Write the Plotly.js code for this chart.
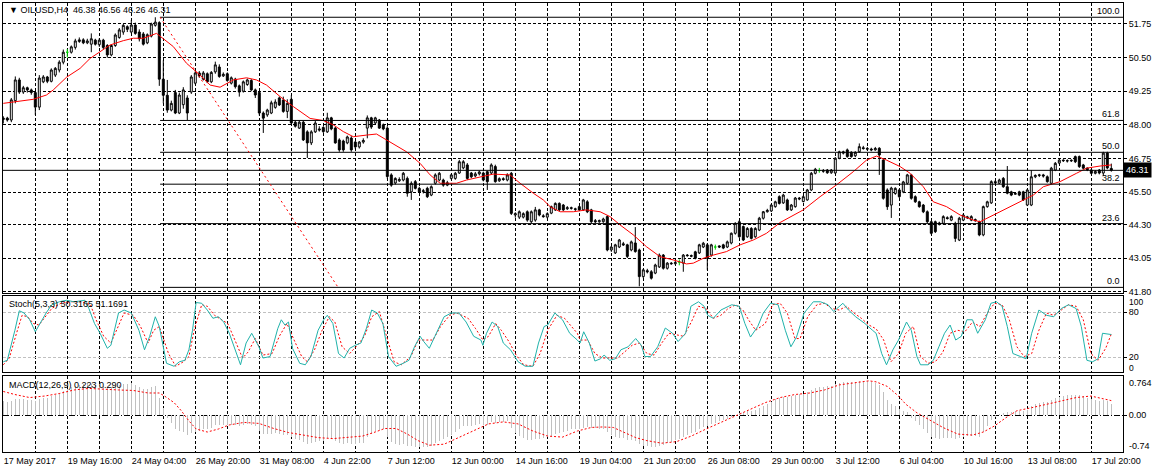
<!DOCTYPE html>
<html><head><meta charset="utf-8">
<script src="https://cdn.plot.ly/plotly-3.0.1.min.js"></script>
<style>html,body{margin:0;padding:0;background:#fff;overflow:hidden}#chart{width:1162px;height:473px}</style>
</head><body><div id="chart"></div>
<script>
// ---------------- data ----------------
const symbolName = "OILUSD,H4";
const openP = [
48.20,48.25,48.18,48.90,49.67,49.22,49.38,49.30,49.20,48.66,
49.60,49.78,49.62,49.85,50.04,50.33,50.70,50.70,50.88,51.10,
51.16,51.05,51.00,51.15,50.98,51.15,50.95,50.60,50.95,51.25,
51.45,51.65,51.45,51.71,51.45,51.38,51.05,51.30,51.70,51.80,
49.70,49.10,48.55,49.20,48.44,48.75,49.00,49.22,49.55,49.93,
49.70,49.90,49.60,49.97,50.15,49.82,49.90,49.55,49.70,49.45,
49.25,49.50,49.65,49.30,49.20,48.44,48.37,48.44,48.65,49.00,
48.92,48.50,48.95,48.10,47.88,48.10,47.74,47.33,47.74,47.85,
47.90,47.74,48.26,47.88,47.44,47.40,47.33,47.51,47.36,47.18,
47.36,47.88,48.26,48.07,48.18,48.00,47.88,46.14,45.84,45.92,
45.95,46.01,45.51,45.89,45.64,45.52,45.64,45.39,45.83,45.95,
45.95,45.76,46.01,46.01,46.21,46.40,46.51,46.21,46.10,46.18,
46.21,46.26,46.21,46.45,45.92,46.00,45.95,46.20,44.65,44.57,
44.57,44.77,44.40,44.46,44.84,44.62,44.57,44.72,44.84,45.08,
45.02,44.88,44.92,44.88,44.96,44.84,45.14,44.84,44.44,44.40,
44.40,44.59,43.35,43.24,43.46,43.58,43.54,43.35,43.61,43.35,
42.36,42.58,42.54,42.49,42.72,43.16,42.67,42.86,42.84,42.90,
42.86,43.16,43.14,43.28,43.24,43.46,43.54,43.16,43.46,43.50,
43.54,43.46,43.61,43.97,44.40,44.22,43.84,44.15,43.84,44.09,
44.53,44.77,44.80,44.96,45.33,45.10,45.21,44.84,44.96,45.28,
45.15,45.21,45.58,46.20,46.30,46.30,46.32,46.22,46.21,46.76,
47.00,47.07,46.98,46.85,47.00,47.15,47.12,47.10,47.07,47.13,
46.69,45.58,45.02,45.45,45.58,45.51,45.83,46.14,45.33,45.14,
45.02,44.77,44.40,44.40,44.30,44.34,44.55,44.46,44.34,43.72,
44.46,44.58,44.46,44.48,44.40,43.91,44.96,45.10,45.89,45.83,
46.01,45.70,45.51,45.42,45.51,45.51,45.02,45.02,46.07,46.12,
46.14,46.07,45.83,46.32,46.58,46.69,46.67,46.66,46.82,46.82,
46.51,46.39,46.32,46.20,46.32,46.21,46.95,46.38];
const highP = [
48.32,48.30,49.00,49.80,49.75,49.45,49.42,49.35,49.25,49.85,
49.85,49.82,50.10,50.15,50.40,50.80,50.82,50.95,51.20,51.25,
51.22,51.20,51.40,51.20,51.22,51.20,51.00,51.00,51.40,51.60,
51.75,51.70,51.90,51.80,51.55,51.45,51.40,51.80,52.00,51.85,
50.40,49.67,48.90,49.30,49.20,49.40,49.10,49.85,50.00,50.00,
50.00,49.95,50.00,50.35,50.25,49.95,49.95,49.80,49.75,49.50,
49.65,49.72,49.70,49.35,49.25,48.50,48.60,48.90,48.95,49.05,
49.05,48.95,49.10,48.15,48.15,48.15,47.80,47.80,48.15,47.95,
47.95,48.45,48.30,47.92,47.50,47.45,47.60,47.58,47.40,47.40,
47.50,48.35,48.30,48.30,48.22,48.05,47.95,46.20,46.05,46.05,
46.25,46.08,45.90,45.95,45.70,45.62,45.70,45.75,46.20,46.25,
46.00,45.92,46.18,46.25,46.70,46.69,46.58,46.25,46.25,46.30,
46.26,46.30,46.57,46.52,46.05,46.05,46.20,46.25,44.75,44.82,
44.75,44.82,44.82,44.95,44.88,44.68,44.75,45.00,45.12,45.12,
45.06,44.98,44.96,44.92,45.00,45.25,45.20,44.88,44.50,44.48,
44.55,44.64,43.50,43.58,43.76,43.65,43.58,43.70,44.20,43.40,
42.65,42.65,42.60,42.84,43.22,43.20,42.90,42.90,42.95,43.00,
43.20,43.20,43.18,43.32,43.58,43.65,43.60,43.58,43.55,43.52,
43.58,43.70,44.00,44.38,44.46,44.26,44.20,44.20,44.20,44.58,
44.80,44.88,45.06,45.18,45.38,45.44,45.26,45.06,45.32,45.32,
45.38,45.62,46.25,46.40,46.40,46.36,46.36,46.36,46.80,47.04,
47.04,47.12,47.02,47.02,47.31,47.22,47.18,47.15,47.18,47.17,
46.74,45.64,45.70,45.68,45.62,45.92,46.18,46.18,45.38,45.18,
45.06,44.82,44.44,44.44,44.40,44.64,44.60,44.64,44.40,44.58,
44.70,44.62,44.64,44.52,44.44,45.00,45.18,45.94,45.95,46.00,
46.06,46.47,45.55,45.50,45.55,45.55,45.62,46.32,46.16,46.18,
46.18,46.12,46.44,46.62,46.74,46.72,46.72,46.72,46.86,46.86,
46.55,46.42,46.36,46.32,46.36,47.00,47.00,46.56];
const lowP = [
48.05,48.12,48.10,48.80,49.15,49.15,49.20,49.12,48.37,48.55,
49.55,49.55,49.58,49.78,49.95,50.25,50.50,50.65,50.80,51.05,
51.00,51.00,50.70,50.95,50.90,50.80,50.50,50.55,50.90,51.20,
51.35,51.45,51.40,51.35,51.10,50.95,51.00,51.25,51.65,49.45,
48.80,48.45,48.50,48.40,48.40,48.60,48.18,49.15,49.50,49.75,
49.65,49.55,49.55,49.90,49.75,49.78,49.60,49.50,49.35,49.05,
49.20,49.45,49.25,49.00,48.35,47.70,48.30,48.40,48.60,48.70,
48.45,48.25,48.00,47.90,47.85,47.40,46.77,47.25,47.70,47.75,
47.70,47.70,47.80,47.30,47.00,47.00,47.28,47.00,47.10,47.12,
47.30,47.50,47.85,48.00,47.85,47.80,46.00,45.70,45.78,45.88,
45.90,45.33,45.21,45.60,45.48,45.45,45.28,45.35,45.78,45.90,
45.70,45.72,45.96,45.96,46.18,46.35,45.96,46.02,46.05,46.12,
45.90,45.58,46.15,45.85,45.88,45.92,45.90,44.65,44.55,44.50,
44.52,44.40,44.35,44.40,44.60,44.55,44.52,44.68,44.80,44.80,
44.80,44.84,44.85,44.80,44.80,44.80,44.72,44.35,44.35,44.36,
44.36,43.30,43.28,43.20,43.42,43.50,43.05,43.30,43.25,42.00,
42.30,42.48,42.25,42.45,42.68,42.62,42.62,42.80,42.80,42.78,
42.54,43.10,43.08,43.00,43.20,43.42,42.61,43.10,43.36,43.42,
43.38,43.42,43.56,43.92,43.80,43.68,43.80,43.74,43.80,44.05,
44.48,44.74,44.76,44.92,45.04,45.06,44.80,44.80,44.92,45.20,
45.12,45.18,45.54,46.16,46.22,46.22,46.18,46.18,46.18,46.72,
46.90,46.78,46.78,46.80,46.96,47.08,47.05,47.02,47.04,46.14,
45.22,44.84,44.54,45.40,45.28,45.46,45.78,45.22,45.10,44.92,
44.72,44.35,43.92,43.98,44.26,44.30,44.48,44.42,43.65,43.68,
44.42,44.50,44.42,44.40,43.86,43.86,44.92,45.06,45.80,45.80,
45.66,45.42,45.35,45.40,45.35,45.17,44.98,44.98,46.02,46.06,
46.04,45.85,45.80,46.28,46.54,46.62,46.60,46.62,46.58,46.40,
46.35,46.28,46.16,46.16,46.16,46.10,46.35,46.26];
const closeP = [
48.25,48.18,48.93,49.67,49.22,49.38,49.30,49.20,48.66,49.74,
49.78,49.62,50.04,50.10,50.33,50.70,50.70,50.90,51.12,51.16,
51.05,51.12,51.20,51.00,51.15,50.88,50.60,50.95,51.34,51.53,
51.70,51.55,51.71,51.40,51.20,51.00,51.35,51.75,51.82,49.70,
49.10,48.55,48.80,48.44,49.11,49.30,48.44,49.78,49.93,49.82,
49.93,49.60,49.95,50.23,49.80,49.88,49.65,49.75,49.42,49.22,
49.60,49.67,49.30,49.11,48.44,48.25,48.55,48.82,48.85,48.74,
48.50,48.80,48.07,47.95,48.10,47.44,47.33,47.74,48.07,47.81,
47.75,48.26,47.85,47.33,47.07,47.07,47.55,47.07,47.18,47.36,
47.42,48.26,47.92,48.26,47.88,47.85,46.08,45.76,46.01,45.97,
46.20,45.46,45.83,45.64,45.51,45.55,45.33,45.70,46.14,46.20,
45.76,45.85,46.14,46.20,46.63,46.63,46.01,46.07,46.18,46.25,
45.95,45.89,46.51,45.89,46.00,45.97,46.14,44.71,44.70,44.77,
44.70,44.46,44.77,44.84,44.65,44.59,44.70,44.96,45.08,44.84,
44.84,44.92,44.90,44.86,44.84,45.21,44.77,44.40,44.40,44.44,
44.50,43.35,43.46,43.54,43.72,43.54,43.11,43.65,43.29,42.36,
42.61,42.54,42.30,42.79,43.16,42.67,42.86,42.84,42.88,42.90,
43.16,43.14,43.12,43.04,43.54,43.60,43.04,43.54,43.46,43.46,
43.42,43.65,43.97,44.34,43.84,43.72,44.15,43.78,44.15,44.53,
44.77,44.82,45.02,45.14,45.08,45.39,44.84,45.02,45.28,45.25,
45.33,45.58,46.20,46.35,46.30,46.28,46.22,46.32,46.76,47.00,
46.95,46.82,46.82,46.98,47.19,47.12,47.10,47.07,47.12,46.88,
45.27,44.96,45.65,45.64,45.33,45.88,46.14,45.27,45.14,44.96,
44.77,44.40,43.97,44.03,44.35,44.59,44.52,44.59,43.78,44.53,
44.65,44.55,44.59,44.44,43.91,44.96,45.14,45.89,45.85,45.95,
45.70,45.46,45.39,45.45,45.39,45.21,45.58,46.07,46.12,46.14,
46.10,45.89,46.39,46.57,46.69,46.67,46.66,46.68,46.63,46.45,
46.39,46.33,46.20,46.27,46.21,46.95,46.40,46.31];

// moving average (red line), read at sample bars
const maIdx = [0,7.5,10.8,12.5,15.8,19.2,21.7,24.2,26.7,30,32.5,35,38.3,42.5,45.8,49.2,51.7,54.2,57.5,60.8,63.3,65.8,69.2,72.5,76.7,80,82.5,85,87.5,90.8,93.3,95.8,100.8,104.2,106.7,109.2,113.3,115.8,119.2,122.5,126.7,129.2,132.5,135,136.7,139.2,142.5,145.8,149.2,151.7,154.2,157.5,160.8,164.2,167.5,170.8,172.5,175,177.5,180.8,184.2,187.5,190.8,194.2,200,204.2,208.3,212.5,215.8,218.3,220.8,224.2,226.7,230,232.5,235.8,239.2,242.5,244.2,247.5,250.8,255,257.5,260,264.2,268.3,270.8,274.2,277];
const maVal = [48.80,48.95,49.11,49.30,49.77,50.10,50.47,50.72,50.97,51.13,51.22,51.22,51.40,50.91,50.29,49.85,49.48,49.40,49.67,49.75,49.67,49.48,49.05,48.68,48.24,48.16,48.00,47.75,47.56,47.62,47.66,47.44,47.00,46.57,46.14,45.83,45.83,45.95,46.07,46.17,46.14,45.83,45.46,45.21,44.96,44.77,44.77,44.84,44.77,44.59,44.28,43.91,43.47,43.10,42.98,42.83,42.86,43.04,43.16,43.29,43.54,43.72,43.97,44.37,44.84,45.33,45.77,46.26,46.69,46.84,46.69,46.45,46.20,45.70,45.14,44.96,44.65,44.46,44.40,44.65,44.90,45.21,45.39,45.70,45.89,46.20,46.39,46.47,46.51];

// stochastic %K (teal) and %D (red dotted)
const stochKIdx = [0,1,2.9,4,5.2,6.6,8,9.4,10.7,12.1,14,15.8,17.7,20.4,21.4,22.8,24.2,26,26.9,28.8,30.2,32,33.9,35.3,36.6,38,39,40.8,42.7,44,45.4,46.4,47.3,48.2,49.6,51,52.4,53.8,55.1,56.5,57.9,59.3,60.7,62.1,63.9,64.9,66.7,68.6,69.5,70.4,71.3,72.3,74.1,75.5,76.9,78.7,80.1,81,82.4,83.8,85.2,86.6,88,89.4,90.8,92.1,93.5,94.9,96.3,98.2,100,101.4,102.8,104.2,105.1,106.5,107.9,110.2,112,113.9,115.7,117.6,119.4,119.9,120.8,122.2,123.6,125,126.8,128.7,130.5,132.4,133.8,135.2,136.1,137.9,139.8,141.6,143.5,144.2,145.1,146.5,147.9,149.3,150.2,151.6,153,154.4,156.2,158.1,159.5,160.4,161.8,163.6,165.5,167.3,168.7,170.6,171.9,173.8,175.2,176.1,177.5,179.4,182.1,184,185.4,186.8,188.6,190,191.8,193.7,195.5,196.9,198.3,200.2,202.5,204.3,206.2,207.6,209.9,211.3,213.1,215.4,217.3,218.2,219.6,220.8,222.4,223.8,225.8,227,228.4,229.3,231.2,232.5,233.9,235.3,236.7,238.1,239.5,240.9,242.3,243.6,245.5,246.9,248.3,249.7,251,252.4,254.3,255.7,257.1,258.9,260.8,262.6,264.5,266.3,268.2,269.5,270.9,272.3,273.7,274.8,277];
const stochKVal = [14,16,56,82,79,70,54,67,79,90,94,96,94,96,85,65,52,32,36,79,83,79,56,30,48,74,61,12,8,14,16,30,56,93,92,83,72,74,67,52,30,10,39,52,34,19,21,58,70,63,67,32,12,10,21,56,70,76,65,25,19,32,36,39,59,83,79,65,21,8,12,16,34,48,41,32,48,74,79,79,67,48,43,36,52,67,61,39,30,14,8,8,39,61,63,79,70,52,43,39,54,39,15,18,23,16,18,30,34,45,36,21,21,34,59,52,41,52,88,94,88,76,72,83,90,88,65,47,61,79,92,90,56,34,47,79,94,94,90,81,92,83,74,65,56,52,25,10,30,43,67,56,21,10,10,16,34,52,63,43,48,70,70,52,70,92,94,88,61,25,21,18,52,83,76,74,85,90,85,61,16,14,18,52,50.32];
const stochDIdx = [0,1.5,3.3,4.7,6.1,7.5,8.9,10.3,12.1,14.4,16.8,19.5,21.8,23.2,25.1,26.9,28.3,30.2,32.5,34.3,36.2,37.6,39,41.3,43.1,45,46.4,47.7,49.6,51,52.8,54.7,56.1,57.9,59.8,61.2,63,64.9,67.2,69,70.9,72.7,74.6,76,77.8,79.7,81.5,82.9,84.7,86.6,88.5,90.3,92.1,94,95.8,97.7,99.5,101.9,103.7,105.6,107.4,109.3,111.6,113.4,116.2,118.1,119.9,121.3,123.1,124.5,126.4,128.2,130.1,132.4,134.2,136.1,138.4,140.3,142.1,143.5,144.2,146.1,147.9,149.8,151.6,153.5,155.3,157.2,159,160.9,162.7,164.6,166.4,168.3,170.1,172,173.8,175.7,177.5,179.4,181.2,183.1,184.9,186.3,188.1,190.5,192.3,194.2,196,197.9,199.2,201.1,203.4,205.3,207.1,209,210.8,212.7,214.5,216.4,218.2,220.1,221.9,223.8,225.6,227.5,229.3,231.2,233,234.9,236.7,238.6,240.4,242.3,244.1,246,247.8,249.7,251.5,253.4,255.2,257.1,258.9,260.8,262.6,264.5,266.3,268.2,270,271.9,273.7,275.6,277];
const stochDVal = [10,19,52,76,74,65,63,72,85,92,94,94,90,70,48,39,56,79,76,61,39,56,61,25,8,14,21,56,90,88,76,70,65,43,19,27,45,23,25,48,65,43,21,14,30,56,74,67,34,25,36,48,74,81,48,14,10,21,43,43,43,61,76,79,72,58,43,48,65,56,41,23,10,8,25,56,76,72,61,52,43,43,25,19,19,19,27,36,39,25,23,39,52,50,48,67,88,85,72,76,85,90,83,70,56,65,90,92,79,45,45,74,90,92,85,83,88,79,72,63,58,43,14,25,52,61,21,12,14,27,52,56,54,67,61,79,92,90,70,34,21,25,56,79,76,83,90,88,70,25,16,32,51.17];

// MACD main (grey histogram, one per bar) and signal (red dotted)
const macdHist = [
0.28,0.27,0.28,0.32,0.33,0.32,0.31,0.30,0.28,0.32,
0.34,0.35,0.38,0.41,0.44,0.48,0.51,0.55,0.58,0.60,
0.61,0.61,0.62,0.60,0.60,0.58,0.55,0.55,0.57,0.60,
0.62,0.62,0.63,0.60,0.56,0.52,0.52,0.55,0.57,0.35,
0.15,-0.05,-0.15,-0.27,-0.30,-0.33,-0.38,-0.35,-0.32,-0.30,
-0.28,-0.27,-0.25,-0.20,-0.20,-0.19,-0.20,-0.19,-0.20,-0.22,
-0.20,-0.18,-0.20,-0.22,-0.30,-0.36,-0.37,-0.36,-0.35,-0.36,
-0.38,-0.38,-0.43,-0.47,-0.48,-0.52,-0.56,-0.55,-0.52,-0.50,
-0.50,-0.45,-0.45,-0.50,-0.55,-0.57,-0.55,-0.57,-0.57,-0.55,
-0.54,-0.42,-0.36,-0.31,-0.29,-0.28,-0.42,-0.52,-0.56,-0.58,
-0.57,-0.60,-0.61,-0.62,-0.62,-0.62,-0.62,-0.60,-0.55,-0.50,
-0.47,-0.43,-0.38,-0.33,-0.27,-0.22,-0.22,-0.22,-0.20,-0.18,
-0.19,-0.20,-0.14,-0.15,-0.14,-0.13,-0.12,-0.25,-0.35,-0.41,
-0.45,-0.48,-0.48,-0.47,-0.46,-0.45,-0.43,-0.40,-0.36,-0.34,
-0.32,-0.30,-0.28,-0.27,-0.27,-0.25,-0.24,-0.25,-0.26,-0.27,
-0.27,-0.33,-0.38,-0.42,-0.44,-0.45,-0.48,-0.49,-0.50,-0.56,
-0.60,-0.61,-0.63,-0.62,-0.60,-0.58,-0.55,-0.52,-0.49,-0.46,
-0.42,-0.38,-0.35,-0.33,-0.28,-0.24,-0.22,-0.18,-0.15,-0.12,
-0.10,-0.07,-0.04,0.01,0.05,0.06,0.08,0.09,0.11,0.15,
0.19,0.23,0.27,0.32,0.34,0.37,0.37,0.38,0.40,0.42,
0.43,0.45,0.50,0.53,0.55,0.56,0.57,0.58,0.61,0.64,
0.66,0.66,0.66,0.66,0.68,0.68,0.67,0.66,0.64,0.60,
0.45,0.30,0.22,0.18,0.12,0.08,0.07,-0.05,-0.12,-0.20,
-0.28,-0.35,-0.42,-0.45,-0.46,-0.45,-0.45,-0.44,-0.47,-0.44,
-0.42,-0.41,-0.40,-0.40,-0.42,-0.32,-0.22,-0.10,-0.03,0.03,
0.05,0.06,0.07,0.08,0.09,0.09,0.11,0.18,0.22,0.24,
0.26,0.26,0.30,0.34,0.37,0.39,0.40,0.41,0.41,0.40,
0.38,0.35,0.32,0.30,0.28,0.30,0.28,0.223];
const signalIdx = [0,2.9,6.6,10.3,14,17.7,21.4,25.1,28.8,32.5,36.2,39,40.3,42.7,44.5,46.4,48.2,51,53.8,56.5,60.2,63.9,67.6,71.3,75,78.7,82.4,86.1,89.8,92.6,95.4,98.2,101,103.7,106.5,110.2,113.9,117.6,121.3,125,128.7,132.4,136.1,139.8,143.5,147,149.8,152.5,155.3,158.1,160.9,164.6,168.3,172,175.7,179.4,183,186.8,190.5,194.2,197.9,201.6,205.3,209,212.7,216.4,218.2,221,223.8,225.6,228.4,231.2,234.9,238.6,242.3,245,247.8,250.6,253.4,257.1,260.8,264.5,268.2,271.9,273.7,277];
const signalVal = [0.47,0.41,0.35,0.38,0.43,0.50,0.53,0.51,0.50,0.49,0.44,0.44,0.38,0.25,0.09,-0.11,-0.27,-0.33,-0.27,-0.19,-0.14,-0.16,-0.26,-0.34,-0.39,-0.44,-0.46,-0.44,-0.41,-0.34,-0.26,-0.26,-0.37,-0.50,-0.59,-0.57,-0.44,-0.31,-0.17,-0.13,-0.17,-0.31,-0.41,-0.43,-0.31,-0.24,-0.23,-0.24,-0.34,-0.44,-0.50,-0.55,-0.52,-0.41,-0.27,-0.14,-0.01,0.12,0.25,0.35,0.41,0.44,0.50,0.60,0.64,0.68,0.66,0.57,0.38,0.22,0.05,-0.08,-0.24,-0.37,-0.39,-0.33,-0.21,-0.05,0.09,0.15,0.22,0.28,0.35,0.38,0.35,0.29];

// axis labels
const priceTicks = [51.75,50.50,49.25,48.00,46.75,45.50,44.30,43.05,41.80];
const priceTickText = ["51.75","50.50","49.25","48.00","46.75","45.50","44.30","43.05","41.80"];
const dateLabels = ["17 May 2017","19 May 16:00","24 May 04:00","26 May 20:00","31 May 08:00","4 Jun 22:00","7 Jun 12:00","12 Jun 00:00","14 Jun 16:00","19 Jun 04:00","21 Jun 20:00","26 Jun 08:00","29 Jun 00:00","3 Jul 12:00","6 Jul 04:00","10 Jul 16:00","13 Jul 08:00","17 Jul 20:00"];
const barsPerGrid = 8;
// Fibonacci retracement drawn on the chart
const fibLevels = [0, 23.6, 38.2, 50, 61.8, 100];
const fibAnchorIdx = [39.2, 83.7];
const fibAnchorPrice = [52.00, 41.96];
const stochLevels = [20, 80];
const stochLegend = [50.3165, 51.1691];
const macdLegend = [0.223, 0.290];
const stochScaleText = ["100", "0"];
const macdScaleText = ["0.764", "-0.74"];

// ---------------- build ----------------
const N = closeP.length;
const idx = closeP.map((_, i) => i);
const xr = [-0.075, 279.925];
const gridIdx = [], gridText = [];
for (let k = 0; k * barsPerGrid < N; k++) {
  gridIdx.push(k * barsPerGrid);
  gridText.push(k % 2 === 0 ? (dateLabels[k / 2] || "") : "");
}
const FONT = {family: "Liberation Sans, Arial, sans-serif", size: 9, color: "#000"};

const isDoji = i => openP[i] === closeP[i];
const normal = idx.filter(i => !isDoji(i));
const doji = idx.filter(i => isDoji(i));
const pick = (arr, sel) => sel.map(i => arr[i]);

const traces = [];
traces.push({
  type: "candlestick", xaxis: "x", yaxis: "y",
  x: normal, open: pick(openP, normal), high: pick(highP, normal), low: pick(lowP, normal), close: pick(closeP, normal),
  increasing: {line: {color: "#000", width: 1}, fillcolor: "#fff"},
  decreasing: {line: {color: "#000", width: 1}, fillcolor: "#000"},
  whiskerwidth: 0, hoverinfo: "skip"
});
traces.push({
  type: "candlestick", xaxis: "x", yaxis: "y",
  x: doji, open: pick(openP, doji), high: pick(highP, doji), low: pick(lowP, doji), close: pick(closeP, doji),
  increasing: {line: {color: "#00d000", width: 1}, fillcolor: "#00d000"},
  decreasing: {line: {color: "#00d000", width: 1}, fillcolor: "#00d000"},
  whiskerwidth: 0, hoverinfo: "skip"
});
traces.push({type: "scatter", mode: "lines", xaxis: "x", yaxis: "y", x: maIdx, y: maVal,
  line: {color: "#ff0000", width: 1}, hoverinfo: "skip"});
// fib
const fibHi = fibAnchorPrice[0], fibLo = fibAnchorPrice[1];
const fibAnn = [];
fibLevels.forEach(l => {
  const p = fibLo + (fibHi - fibLo) * l / 100;
  traces.push({type: "scatter", mode: "lines", xaxis: "x", yaxis: "y", x: [fibAnchorIdx[0], xr[1]], y: [p, p],
    line: {color: "#000", width: 1}, hoverinfo: "skip"});
  fibAnn.push({xref: "x", yref: "y", x: xr[1], y: p, text: l.toFixed(1), showarrow: false,
    xanchor: "right", yanchor: "bottom", xshift: -1, yshift: -1, font: FONT});
});
traces.push({type: "scatter", mode: "lines", xaxis: "x", yaxis: "y", x: fibAnchorIdx, y: fibAnchorPrice,
  line: {color: "#ff0000", width: 1, dash: "2px,3px"}, hoverinfo: "skip"});
// bid line
const lastC = closeP[N - 1];
traces.push({type: "scatter", mode: "lines", xaxis: "x", yaxis: "y", x: xr, y: [lastC, lastC],
  line: {color: "#000", width: 1}, hoverinfo: "skip"});
// stoch
traces.push({type: "scatter", mode: "lines", xaxis: "x2", yaxis: "y2", x: stochDIdx, y: stochDVal,
  line: {color: "#ff0000", width: 1, dash: "2px,2px"}, hoverinfo: "skip"});
traces.push({type: "scatter", mode: "lines", xaxis: "x2", yaxis: "y2", x: stochKIdx, y: stochKVal,
  line: {color: "#20b2aa", width: 1}, hoverinfo: "skip"});
// macd
traces.push({type: "bar", xaxis: "x3", yaxis: "y3", x: idx, y: macdHist, width: 0.3,
  marker: {color: "#c0c0c0", line: {width: 0}}, hoverinfo: "skip"});
traces.push({type: "scatter", mode: "lines", xaxis: "x3", yaxis: "y3", x: signalIdx, y: signalVal,
  line: {color: "#ff0000", width: 1, dash: "2px,2px"}, hoverinfo: "skip"});

const xBase = {range: xr, fixedrange: true, showgrid: true, gridcolor: "#000", gridwidth: 1, griddash: "3px,2px",
  tickmode: "array", tickvals: gridIdx, ticktext: gridText, showline: true, linecolor: "#000", linewidth: 1,
  mirror: true, zeroline: false, ticks: "", rangeslider: {visible: false}, tickfont: FONT};
const yBase = {side: "right", fixedrange: true, showline: true, linecolor: "#000", linewidth: 1, mirror: true,
  zeroline: false, ticks: "outside", ticklen: 3, tickcolor: "#000", tickfont: FONT, tickmode: "array"};

const scaleFont = {family: FONT.family, size: 8.5, color: "#000"};
const layout = {
  width: 1162, height: 473, margin: {l: 3, r: 39, t: 3, b: 21},
  paper_bgcolor: "#fff", plot_bgcolor: "#fff", showlegend: false, hovermode: false, bargap: 0,
  xaxis: Object.assign({}, xBase, {anchor: "y", showticklabels: false}),
  xaxis2: Object.assign({}, xBase, {anchor: "y2", showticklabels: false}),
  xaxis3: Object.assign({}, xBase, {anchor: "y3", showticklabels: true, ticklabelposition: "outside right"}),
  yaxis: Object.assign({}, yBase, {anchor: "x", domain: [0.3541, 1], range: [41.75, 52.53],
    tickvals: priceTicks, ticktext: priceTickText, showgrid: true, gridcolor: "#000", griddash: "3px,2px"}),
  yaxis2: Object.assign({}, yBase, {anchor: "x2", domain: [0.1775, 0.3468], range: [0, 101.3],
    tickvals: stochLevels, ticktext: stochLevels.map(String), showgrid: true, gridcolor: "#c0c0c0", griddash: "3px,2px"}),
  yaxis3: Object.assign({}, yBase, {anchor: "x3", domain: [0, 0.1699], range: [-0.724, 0.781],
    tickvals: [0], ticktext: ["0.00"], showgrid: true, gridcolor: "#000", griddash: "6px,2px,1px,2px"}),
  annotations: [
    {xref: "paper", yref: "paper", x: 0.0036, y: 0.9844, xanchor: "left", yanchor: "middle", showarrow: false, font: FONT,
     text: "\u25BC\u00a0" + symbolName + "\u00a0\u00a0" + [openP[N-1], highP[N-1], lowP[N-1], closeP[N-1]].map(v => v.toFixed(2)).join("\u00a0")},
    {xref: "paper", yref: "paper", x: 0.0036, y: 0.3296, xanchor: "left", yanchor: "middle", showarrow: false, font: FONT,
     text: "Stoch(5,3,3)\u00a0" + stochLegend.map(v => v.toFixed(4)).join("\u00a0")},
    {xref: "paper", yref: "paper", x: 0.0036, y: 0.1492, xanchor: "left", yanchor: "middle", showarrow: false, font: FONT,
     text: "MACD(12,26,9)\u00a0" + macdLegend.map(v => v.toFixed(3)).join("\u00a0")},
    {xref: "paper", yref: "paper", x: 1, y: 0.3330, xanchor: "left", yanchor: "middle", xshift: 4, showarrow: false, font: scaleFont, text: stochScaleText[0]},
    {xref: "paper", yref: "paper", x: 1, y: 0.1880, xanchor: "left", yanchor: "middle", xshift: 4, showarrow: false, font: scaleFont, text: stochScaleText[1]},
    {xref: "paper", yref: "paper", x: 1, y: 0.1543, xanchor: "left", yanchor: "middle", xshift: 4, showarrow: false, font: FONT, text: macdScaleText[0]},
    {xref: "paper", yref: "paper", x: 1, y: 0.0140, xanchor: "left", yanchor: "middle", xshift: 4, showarrow: false, font: FONT, text: macdScaleText[1]},
    {xref: "paper", yref: "y", x: 1, y: lastC, xanchor: "left", yanchor: "middle", xshift: 0, showarrow: false,
     text: lastC.toFixed(2), bgcolor: "#000", borderpad: 2, font: {family: FONT.family, size: 9, color: "#fff"}}
  ].concat(fibAnn)
};
Plotly.newPlot("chart", traces, layout, {staticPlot: true, displayModeBar: false});
</script></body></html>
